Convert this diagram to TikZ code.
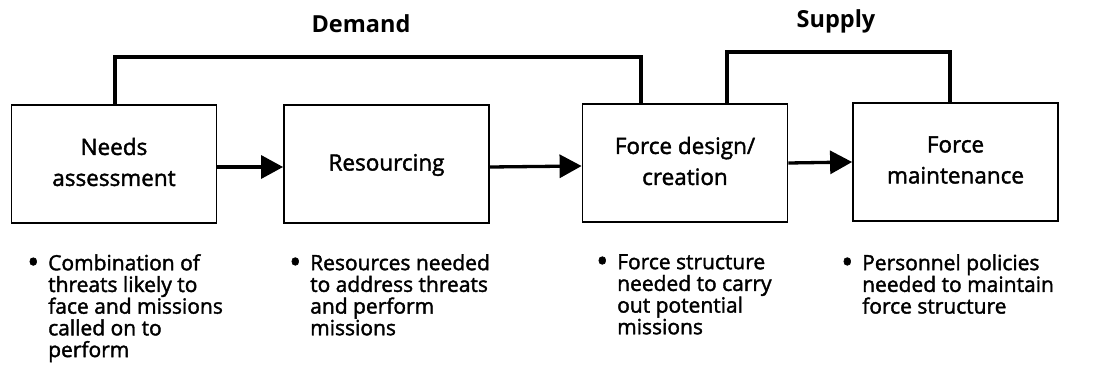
\documentclass[tikz,border=0pt]{standalone}
\usepackage{fontspec}
\setmainfont{Open Sans}
\newfontfamily\bodyfont{Open Sans}[FakeBold=1.8]
\usetikzlibrary{arrows.meta}
\newcommand{\bul}{\llap{\raisebox{-0.25ex}{\scalebox{1.5}{\textbullet}}\hspace{9pt}}}
\begin{document}
\begin{tikzpicture}[x=1pt,y=-1pt,
  stage/.style={draw,line width=1.8pt,minimum width=205pt,minimum height=118pt,inner sep=0pt},
  boxtext/.style={align=center,font=\bodyfont\fontsize{22.5}{31}\selectfont},
  link/.style={line width=3.3pt},
  arr/.style={line width=3.3pt,-{Triangle[length=22pt,width=23pt]}},
  heading/.style={font=\fontsize{23.5}{26}\selectfont\bfseries},
  bullets/.style={anchor=north west,align=left,inner sep=0pt,font=\bodyfont\fontsize{21}{21.7}\selectfont}
]
\useasboundingbox (0,0) rectangle (1100,383);
\node[stage] (n1) at (114,164) {};
\node[stage] (n2) at (386.5,164) {};
\node[stage] (n3) at (685,163) {};
\node[stage] (n4) at (955.5,162) {};
\node[boxtext] (t1) at (114,162) {Needs\\assessment};
\node[boxtext] (t2) at (386.5,165) {Resourcing};
\node[boxtext] (t3) at (685,161) {Force design/\\creation};
\node[boxtext] (t4) at (955.5,160) {Force\\maintenance};
\draw[arr] ([yshift=-3pt]n1.east) -- ([yshift=-3pt]n2.west);
\draw[arr] ([yshift=-3pt]n2.east) -- ([yshift=-3pt]n3.west);
\draw[arr] (n3.east) -- (n4.west);
\coordinate (dL) at (115,57);
\coordinate (dR) at (641,57);
\coordinate (sL) at (727,52);
\coordinate (sR) at (950,52);
\draw[link] (n1.north -| dL) -- (dL) -- (dR) -- (n3.north -| dR);
\draw[link] (n3.north -| sL) -- (sL) -- (sR) -- (n4.north -| sR);
\node[heading] (dem) at (361,24) {Demand};
\node[heading] (sup) at (836,21) {Supply};
\node[bullets] (b1) at (48,254) {\bul Combination of\\threats likely to\\face and missions\\called on to\\perform};
\node[bullets] (b2) at (310,254) {\bul Resources needed\\to address threats\\and perform\\missions};
\node[bullets] (b3) at (617,254) {\bul Force structure\\needed to carry\\out potential\\missions};
\node[bullets] (b4) at (862,254) {\bul Personnel policies\\needed to maintain\\force structure};
\end{tikzpicture}
\end{document}
